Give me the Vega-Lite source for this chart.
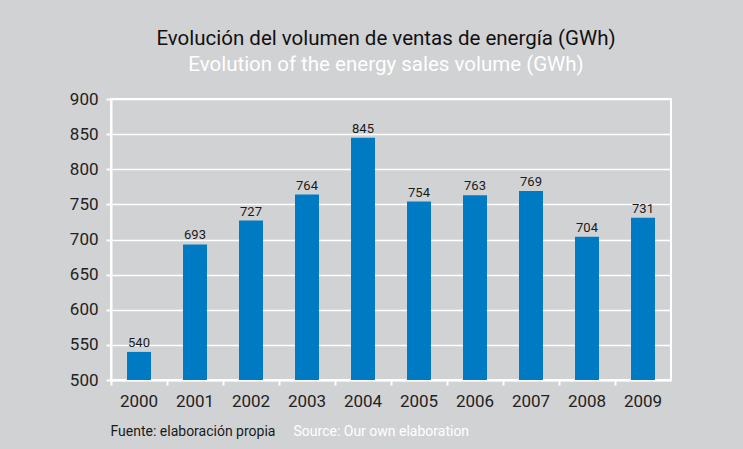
{
  "$schema": "https://vega.github.io/schema/vega-lite/v6.json",
  "autosize": {"type": "none"},
  "padding": {"left": 111, "top": 99, "right": 72, "bottom": 69},
  "width": 560,
  "height": 281,
  "background": "#d1d2d4",
  "title": {
    "text": "Evolución del volumen de ventas de energía (GWh)",
    "subtitle": "Evolution of the energy sales volume (GWh)",
    "anchor": "middle",
    "dx": -5,
    "fontSize": 20.5,
    "fontWeight": "normal",
    "font": "Roboto",
    "color": "#111111",
    "subtitleFont": "Roboto",
    "subtitleFontSize": 20.5,
    "subtitleColor": "#ffffff",
    "subtitlePadding": 5,
    "offset": 15
  },
  "data": {
    "values": [
      {"year": "2000", "value": 540},
      {"year": "2001", "value": 693},
      {"year": "2002", "value": 727},
      {"year": "2003", "value": 764},
      {"year": "2004", "value": 845},
      {"year": "2005", "value": 754},
      {"year": "2006", "value": 763},
      {"year": "2007", "value": 769},
      {"year": "2008", "value": 704},
      {"year": "2009", "value": 731}
    ]
  },
  "encoding": {
    "x": {
      "field": "year",
      "type": "ordinal",
      "scale": {"paddingInner": 0, "paddingOuter": 0},
      "axis": {
        "title": "Fuente: elaboración propia",
        "titleFont": "Roboto",
        "titleFontSize": 14,
        "titleFontWeight": "normal",
        "titleColor": "#1a1a1a",
        "titleAnchor": "start",
        "titleAlign": "left",
        "titleBaseline": "alphabetic",
        "titleX": -1,
        "titleY": 55,
        "labelAngle": 0,
        "labelFont": "Roboto",
        "labelFontSize": 17,
        "labelColor": "#222222",
        "labelPadding": 8,
        "bandPosition": 0,
        "domainColor": "#ffffff",
        "domainWidth": 2,
        "tickColor": "#ffffff",
        "tickWidth": 2,
        "tickSize": 5,
        "grid": false
      }
    },
    "y": {
      "field": "value",
      "type": "quantitative",
      "scale": {"domain": [500, 900], "zero": false, "nice": false},
      "axis": {
        "values": [500, 550, 600, 650, 700, 750, 800, 850, 900],
        "title": "Source: Our own elaboration",
        "titleFont": "Roboto",
        "titleFontSize": 14,
        "titleFontWeight": "normal",
        "titleColor": "#ffffff",
        "titleAngle": 0,
        "titleAlign": "left",
        "titleBaseline": "alphabetic",
        "titleX": 182,
        "titleY": 336,
        "labelFont": "Roboto",
        "labelFontSize": 17,
        "labelColor": "#222222",
        "labelPadding": 8,
        "domainColor": "#ffffff",
        "domainWidth": 2,
        "tickColor": "#ffffff",
        "tickWidth": 2,
        "tickSize": 5,
        "grid": true,
        "gridColor": "#ffffff",
        "gridWidth": 1.6,
        "gridOpacity": 1
      }
    }
  },
  "layer": [
    {
      "mark": {"type": "bar", "width": 24, "color": "#007ac2"},
      "encoding": {"y2": {"datum": 500}}
    },
    {
      "mark": {"type": "text", "baseline": "alphabetic", "dy": -5, "font": "Roboto", "fontSize": 13, "color": "#1a1a1a"},
      "encoding": {"text": {"field": "value", "type": "quantitative"}}
    }
  ],
  "config": {
    "view": {"stroke": "#ffffff", "strokeWidth": 2, "fill": "#d1d2d4"}
  }
}
